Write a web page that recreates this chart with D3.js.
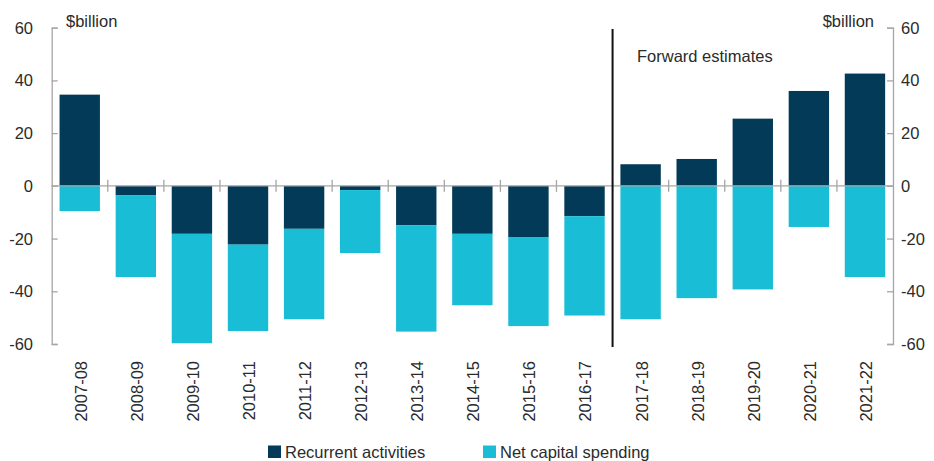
<!DOCTYPE html>
<html>
<head>
<meta charset="utf-8">
<script src="https://cdn.jsdelivr.net/npm/d3@7"></script>
<style>
  body { margin: 0; background: #fff; }
  text { font-family: "Liberation Sans", Arial, sans-serif; fill: #2b2b2b; }
</style>
</head>
<body>
<svg id="chart" width="934" height="461"></svg>
<script>
// data ($billion)
const years = ["2007-08", "2008-09", "2009-10", "2010-11", "2011-12", "2012-13", "2013-14",
  "2014-15", "2015-16", "2016-17", "2017-18", "2018-19", "2019-20", "2020-21", "2021-22"];
const recurrent = [34.6, -3.5, -18.2, -22.3, -16.3, -1.6, -15.0, -18.2, -19.6, -11.5, 8.2, 10.2, 25.5, 36.0, 42.6];
const capital = [-9.6, -31.1, -41.5, -32.8, -34.3, -23.9, -40.3, -27.1, -33.6, -37.7, -50.6, -42.6, -39.3, -15.6, -34.6];
const yTicks = [60, 40, 20, 0, -20, -40, -60];
const seriesNames = ["Recurrent activities", "Net capital spending"];
const firstForecast = "2017-18";

const colors = { rec: "#033a57", cap: "#19bed6" };
const axisColor = "#a6a6a6";
const fontSize = 16.5;

const svg = d3.select("#chart");
const plotLeft = 51.7, plotRight = 893, plotTop = 27.7, plotBottom = 344;

const x = d3.scaleBand().domain(years).range([plotLeft, plotRight]).paddingInner(0.28).paddingOuter(0.14);
const y = d3.scaleLinear().domain([-60, 60]).range([plotBottom, plotTop]);

// stacking: capital sits below recurrent when recurrent is negative
const rows = years.map((yr, i) => ({ year: yr, rec: recurrent[i], cap: capital[i] }));
const stacked = d3.stack().keys(["rec", "cap"]).offset(d3.stackOffsetDiverging)(rows);

svg.append("g").selectAll("g")
  .data(stacked)
  .join("g")
    .attr("fill", d => colors[d.key])
  .selectAll("rect")
  .data(d => d)
  .join("rect")
    .attr("x", d => x(d.data.year))
    .attr("width", x.bandwidth())
    .attr("y", d => y(Math.max(d[0], d[1])))
    .attr("height", d => Math.abs(y(d[0]) - y(d[1])));

// zero line with category ticks
svg.append("line")
  .attr("x1", plotLeft).attr("x2", plotRight)
  .attr("y1", y(0)).attr("y2", y(0))
  .attr("stroke", axisColor).attr("stroke-width", 1.3);

const step = x.step();
svg.append("g").selectAll("line")
  .data(years.slice(1))
  .join("line")
    .attr("x1", (d, i) => plotLeft + (i + 1) * step)
    .attr("x2", (d, i) => plotLeft + (i + 1) * step)
    .attr("y1", y(0) - 6).attr("y2", y(0) + 6)
    .attr("stroke", axisColor).attr("stroke-width", 1.3);

// left axis
const leftAxis = svg.append("g")
  .attr("transform", `translate(${plotLeft},0)`)
  .call(d3.axisRight(y).tickValues(yTicks).tickSize(6).tickFormat(""));
leftAxis.select(".domain").attr("stroke", axisColor).attr("stroke-width", 1.3);
leftAxis.selectAll(".tick line").attr("stroke", axisColor).attr("stroke-width", 1.3);

svg.append("g").selectAll("text")
  .data(yTicks)
  .join("text")
    .attr("x", 33).attr("y", d => y(d))
    .attr("dy", "0.36em")
    .attr("text-anchor", "end")
    .attr("font-size", fontSize)
    .text(d => d);

// right axis
const rightAxis = svg.append("g")
  .attr("transform", `translate(${plotRight},0)`)
  .call(d3.axisLeft(y).tickValues(yTicks).tickSize(6).tickFormat(""));
rightAxis.select(".domain").attr("stroke", axisColor).attr("stroke-width", 1.3);
rightAxis.selectAll(".tick line").attr("stroke", axisColor).attr("stroke-width", 1.3);

svg.append("g").selectAll("text")
  .data(yTicks)
  .join("text")
    .attr("x", 901).attr("y", d => y(d))
    .attr("dy", "0.36em")
    .attr("text-anchor", "start")
    .attr("font-size", fontSize)
    .text(d => d);

// unit labels
svg.append("text").attr("x", 66).attr("y", 27).attr("font-size", fontSize).text("$billion");
svg.append("text").attr("x", 874).attr("y", 27).attr("text-anchor", "end").attr("font-size", fontSize).text("$billion");

// forward estimates divider
const divX = x(firstForecast) - x.step() * x.paddingInner() / 2;
svg.append("line")
  .attr("x1", divX).attr("x2", divX)
  .attr("y1", 29).attr("y2", 347)
  .attr("stroke", "#111").attr("stroke-width", 2);
svg.append("text").attr("x", 637).attr("y", 62).attr("font-size", fontSize).text("Forward estimates");

// category labels, rotated
svg.append("g").selectAll("text")
  .data(years)
  .join("text")
    .attr("transform", d => `translate(${x(d) + x.bandwidth() / 2 + 1},361) rotate(-90)`)
    .attr("text-anchor", "end")
    .attr("dy", "0.36em")
    .attr("font-size", fontSize)
    .text(d => d);

// legend
const legend = svg.append("g");
const legendX = [268, 483];
seriesNames.forEach((name, i) => {
  legend.append("rect")
    .attr("x", legendX[i]).attr("y", 445.5)
    .attr("width", 13).attr("height", 12.5)
    .attr("fill", i === 0 ? colors.rec : colors.cap);
  legend.append("text")
    .attr("x", legendX[i] + 17).attr("y", 457.5)
    .attr("font-size", fontSize)
    .text(name);
});
</script>
</body>
</html>
